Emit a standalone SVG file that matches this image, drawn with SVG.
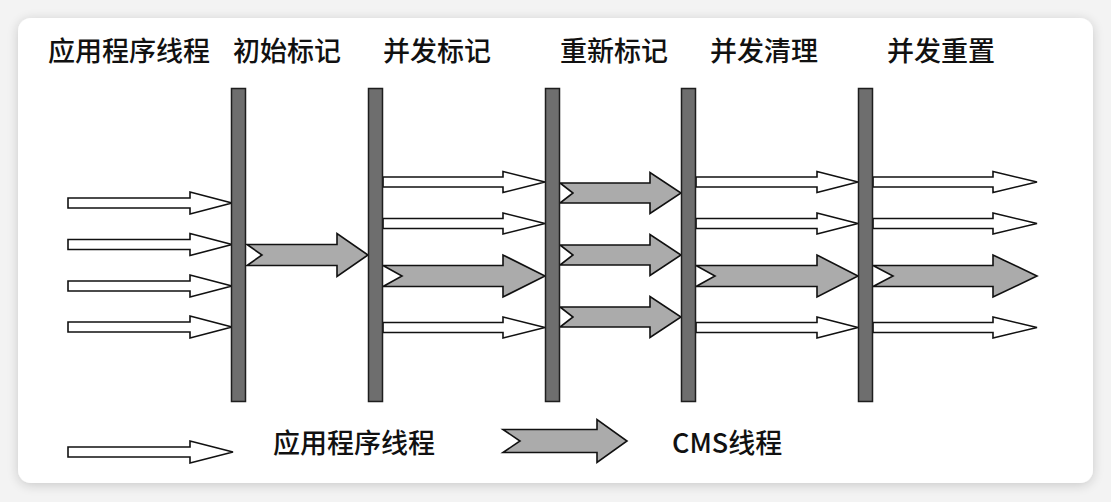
<svg xmlns="http://www.w3.org/2000/svg" width="1111" height="502" viewBox="0 0 1111 502">
<defs>
<filter id="sh" x="-5%" y="-10%" width="110%" height="120%">
<feGaussianBlur in="SourceAlpha" stdDeviation="6"/>
<feOffset dx="0" dy="2"/>
<feComponentTransfer><feFuncA type="linear" slope="0.18"/></feComponentTransfer>
<feMerge><feMergeNode/><feMergeNode in="SourceGraphic"/></feMerge>
</filter>
</defs>
<style>
.bar{fill:#6e6e6e;stroke:#1e1e1e;stroke-width:1.5}
.app{fill:#ffffff;stroke:#111;stroke-width:1.6;stroke-linejoin:miter}
.cms{fill:#ababab;stroke:#111;stroke-width:1.6;stroke-linejoin:miter}
.t{font-family:"Noto Sans CJK SC","Noto Sans",sans-serif;font-size:27px;font-weight:500;fill:#111}
</style>
<rect x="0" y="0" width="1111" height="502" fill="#f3f3f3"/>
<rect x="18" y="18" width="1075" height="465" rx="13" fill="#ffffff" filter="url(#sh)"/>

<g id="headers">
<text class="t" x="48" y="61">应用程序线程</text>
<text class="t" x="233" y="61">初始标记</text>
<text class="t" x="383" y="61">并发标记</text>
<text class="t" x="560" y="61">重新标记</text>
<text class="t" x="710" y="61">并发清理</text>
<text class="t" x="887" y="61">并发重置</text>
</g>

<g id="connectors">
<!-- app threads before initial mark -->
<path class="app" d="M68,198 H190 V192 L232,203 L190,214 V208 H68 Z"/>
<path class="app" d="M68,239.5 H190 V233.5 L232,244.5 L190,255.5 V249.5 H68 Z"/>
<path class="app" d="M68,281 H190 V275 L232,286 L190,297 V291 H68 Z"/>
<path class="app" d="M68,322 H190 V316 L232,327 L190,338 V332 H68 Z"/>
<!-- initial mark CMS -->
<path class="cms" d="M247,244.5 H337 V233.5 L368,255 L337,276.5 V265.5 H247 L262,255 Z"/>
<!-- concurrent mark -->
<path class="app" d="M383,177 H503 V171.5 L545,182 L503,192.5 V187 H383 Z"/>
<path class="app" d="M383,218.5 H503 V213 L545,223.5 L503,234 V228.5 H383 Z"/>
<path class="cms" d="M383,265.5 H503 V255 L545,276 L503,297 V286.5 H383 L402,276 Z"/>
<path class="app" d="M383,322.5 H503 V317 L545,327.5 L503,338 V332.5 H383 Z"/>
<!-- remark -->
<path class="cms" d="M560,183 H650 V172.5 L681,193 L650,213.5 V203 H560 L573,193 Z"/>
<path class="cms" d="M560,245 H650 V234.5 L681,255 L650,275.5 V265 H560 L573,255 Z"/>
<path class="cms" d="M560,307 H650 V296.5 L681,317 L650,337.5 V327 H560 L573,317 Z"/>
<!-- concurrent sweep -->
<path class="app" d="M696,177 H817 V171.5 L858,182 L817,192.5 V187 H696 Z"/>
<path class="app" d="M696,218.5 H817 V213 L858,223.5 L817,234 V228.5 H696 Z"/>
<path class="cms" d="M696,265.5 H817 V255 L858,276 L817,297 V286.5 H696 L715,276 Z"/>
<path class="app" d="M696,322.5 H817 V317 L858,327.5 L817,338 V332.5 H696 Z"/>
<!-- concurrent reset -->
<path class="app" d="M873,177 H993 V171.5 L1037,182 L993,192.5 V187 H873 Z"/>
<path class="app" d="M873,218.5 H993 V213 L1037,223.5 L993,234 V228.5 H873 Z"/>
<path class="cms" d="M873,265.5 H993 V255 L1037,276 L993,297 V286.5 H873 L893,276 Z"/>
<path class="app" d="M873,322.5 H993 V317 L1037,327.5 L993,338 V332.5 H873 Z"/>
</g>

<g id="bars">
<rect id="bar-initial-mark" class="bar" x="231.5" y="88.5" width="14" height="313"/>
<rect id="bar-concurrent-mark" class="bar" x="368.5" y="88.5" width="14" height="313"/>
<rect id="bar-remark" class="bar" x="545.5" y="88.5" width="14" height="313"/>
<rect id="bar-concurrent-sweep" class="bar" x="681.5" y="88.5" width="14" height="313"/>
<rect id="bar-concurrent-reset" class="bar" x="858.5" y="88.5" width="14" height="313"/>
</g>

<g id="legend">
<path class="app" d="M68,447 H190 V441 L233,452 L190,463 V457 H68 Z"/>
<text class="t" x="273" y="453">应用程序线程</text>
<path class="cms" d="M503,429.5 H597 V419.5 L627,441 L597,462.5 V452.5 H503 L520,441 Z"/>
<text class="t" x="672" y="453">CMS线程</text>
</g>
</svg>
